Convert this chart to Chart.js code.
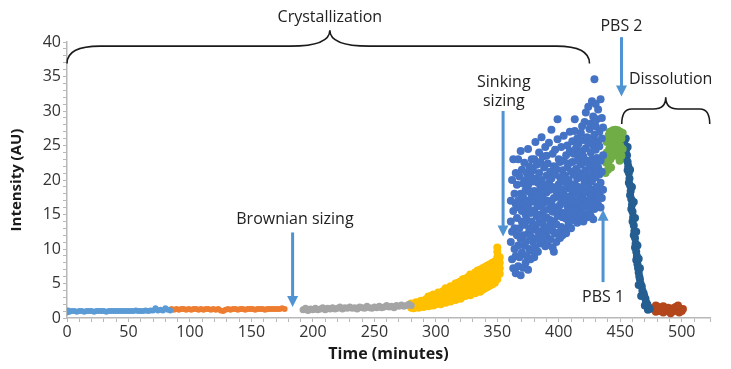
<!DOCTYPE html>
<html>
<head>
<meta charset="utf-8">
<title>Crystallization / dissolution intensity</title>
<script src="https://cdn.jsdelivr.net/npm/chart.js@4/dist/chart.umd.min.js"></script>
<style>
  html, body { margin: 0; padding: 0; background: #fff; }
  #wrap { width: 731px; height: 369px; }
</style>
</head>
<body>
<div id="wrap"><canvas id="c" width="731" height="369"></canvas></div>
<script>
"use strict";

// intensity (AU) vs time (minutes), one list of [t, y] pairs per phase
const BROWNIAN_A = [[0,0.8],[1,1.1],[2,0.9],[4,1.0],[6,1.0],[8,0.9],[10,1.0],[12,1.0],[14,0.9],[16,1.0],[18,1.0],[20,1.0],[22,0.9],[24,1.0],[26,1.0],[28,1.0],[30,1.0],[32,0.9],[34,1.0],[36,1.0],[38,1.0],[40,1.0],[42,1.0],[44,1.0],[46,1.0],[48,1.0],[50,1.0],[52,1.0],[54,1.0],[56,1.1],[58,1.0],[60,1.0],[62,1.0],[64,1.1],[66,1.0],[68,1.1],[70,1.1],[72,1.4],[74,1.1],[76,1.2],[78,1.1],[80,1.4],[82,1.2],[84,1.1]];
const BROWNIAN_B = [[85,1.3],[87,1.2],[89,1.3],[91,1.2],[93,1.3],[95,1.3],[97,1.2],[99,1.3],[101,1.2],[103,1.3],[105,1.3],[107,1.2],[109,1.3],[111,1.2],[113,1.3],[115,1.3],[117,1.2],[119,1.3],[121,1.2],[123,1.3],[125,1.1],[127,1.0],[129,1.2],[131,1.3],[133,1.2],[135,1.3],[137,1.3],[139,1.2],[141,1.3],[143,1.3],[145,1.2],[147,1.3],[149,1.3],[151,1.3],[153,1.2],[155,1.3],[157,1.3],[159,1.3],[161,1.2],[163,1.3],[165,1.3],[167,1.3],[169,1.3],[171,1.3],[173,1.3],[175,1.4],[177,1.3]];
const BROWNIAN_C = [[192,1.2],[194,1.4],[196,1.1],[198,1.3],[200,1.2],[202,1.4],[204,1.2],[206,1.3],[208,1.5],[210,1.2],[212,1.4],[214,1.3],[216,1.5],[218,1.3],[220,1.4],[222,1.6],[224,1.3],[226,1.5],[228,1.4],[230,1.6],[232,1.4],[234,1.5],[236,1.3],[238,1.6],[240,1.5],[242,1.4],[244,1.7],[246,1.5],[248,1.4],[250,1.6],[252,1.5],[254,1.7],[256,1.5],[258,1.6],[260,1.8],[262,1.6],[264,1.7],[266,1.5],[268,1.8],[270,1.7],[272,1.9],[274,1.7],[276,1.8],[278,2.0],[280,1.8]];
const GROWTH = [
  [280,1.5],[280,2.1],[282,1.4],[282,2.0],[284,1.6],[284,2.3],[286,1.5],[286,2.2],[288,1.7],[288,2.5],[290,1.6],[290,2.4],
  [292,1.8],[292,2.7],[294,1.7],[294,2.5],[294,3.1],[296,1.9],[296,2.7],[296,3.2],[298,1.8],[298,2.6],[298,3.4],[300,2.0],[300,2.8],[300,3.3],
  [302,2.1],[302,2.9],[302,3.7],[304,2.0],[304,2.8],[304,3.6],[306,2.3],[306,3.1],[306,3.9],[308,2.2],[308,3.0],[308,3.8],[308,4.3],
  [310,2.5],[310,3.3],[310,4.1],[312,2.4],[312,3.2],[312,4.0],[312,4.6],[314,2.7],[314,3.5],[314,4.3],[316,2.6],[316,3.4],[316,4.2],[316,5.0],
  [318,2.9],[318,3.7],[318,4.5],[318,5.1],[320,2.8],[320,3.6],[320,4.4],[320,5.3],[322,3.1],[322,3.9],[322,4.7],[322,5.6],
  [324,3.2],[324,4.0],[324,4.8],[324,5.7],[326,3.4],[326,4.2],[326,5.0],[326,5.9],[328,3.3],[328,4.1],[328,4.9],[328,5.7],[328,6.3],
  [330,3.7],[330,4.5],[330,5.3],[330,6.1],[332,3.6],[332,4.4],[332,5.2],[332,6.0],[332,6.6],[334,3.9],[334,4.7],[334,5.5],[334,6.3],[334,6.9],
  [336,3.8],[336,4.6],[336,5.4],[336,6.2],[336,7.0],[338,4.1],[338,4.9],[338,5.7],[338,6.5],[338,7.2],[340,4.3],[340,5.1],[340,5.9],[340,6.7],[340,7.4],
  [342,4.5],[342,5.3],[342,6.1],[342,6.9],[342,7.6],[344,4.7],[344,5.5],[344,6.3],[344,7.1],[344,7.8],[346,4.9],[346,5.7],[346,6.5],[346,7.3],[346,8.0],
  [348,5.1],[348,5.9],[348,6.7],[348,7.5],[348,8.2],[350,5.6],[350,6.4],[350,7.2],[350,8.0],[350,8.8],[350,9.6],[350,10.2],[352,6.4],[352,7.2],[352,8.0],[352,8.8]
];
const SINKING = [
  [361,11],[361,14],[361,17],[362,8.5],[362,20],[362,12.5],[363,7.2],[363,15.5],[363,23],[364,10],[364,18],[364,13],
  [365,6.5],[365,9],[365,16.5],[365,21],[366,12],[366,14.5],[366,19.3],[367,7.5],[367,10.5],[367,23],[367,17],
  [368,8.8],[368,13],[368,16],[368,20.5],[369,6.2],[369,11.5],[369,24.2],[369,18],[370,9.5],[370,14],[370,15.5],[370,21.5],
  [371,7.3],[371,12],[371,17.5],[371,19.5],[372,10.5],[372,13.5],[372,16.5],[372,22.5],[373,8],[373,11],[373,15],[373,18.5],[373,20],
  [374,9],[374,14.2],[374,17],[374,21],[375,7],[375,12.2],[375,16],[375,19.2],[375,24.5],[376,10],[376,13],[376,18.3],[376,22],
  [377,8.5],[377,11.8],[377,15.2],[377,20.5],[377,16.8],[378,9.8],[378,14],[378,17.6],[378,23],[379,11],[379,12.8],[379,19.8],[379,21.4],
  [380,8.8],[380,15.6],[380,18.4],[380,23],[381,10.2],[381,13.4],[381,16.8],[381,20.2],[381,25.5],[382,11.6],[382,14.8],[382,22.2],[382,18],
  [383,9.6],[383,12.6],[383,16.2],[383,19.6],[384,13.8],[384,17.4],[384,21],[384,24],[385,10.8],[385,15],[385,18.8],[385,22.6],
  [386,12],[386,16.4],[386,20],[386,26.2],[387,11.2],[387,14],[387,17.8],[387,23.4],[388,13],[388,15.6],[388,19.2],[388,21.8],
  [389,10.4],[389,12.4],[389,16.8],[389,24.8],[390,11.8],[390,14.6],[390,18.2],[390,20.6],[390,23.5],[391,10.6],[391,13.2],[391,17],[391,22.4],
  [392,12.8],[392,15.8],[392,19.6],[392,25.4],[393,11.4],[393,14.2],[393,18.6],[393,21.2],[394,13.6],[394,16.6],[394,20.2],[394,27.3],
  [395,10.2],[395,12.6],[395,15.4],[395,19],[395,23.8],[396,9.6],[396,14],[396,17.4],[396,22],[397,12.2],[397,16],[397,20.8],[397,24.4],
  [398,11],[398,13.6],[398,18.4],[398,21.6],[399,14.8],[399,17.6],[399,25.9],[399,28.8],[400,12.4],[400,15.6],[400,19.4],[400,23],
  [401,11.6],[401,16.4],[401,20.4],[401,22.6],[402,13.2],[402,17.2],[402,19.8],[402,24.8],[403,12],[403,14.6],[403,18.6],[403,21.4],
  [404,15.2],[404,18],[404,22.8],[404,26.4],[405,12.8],[405,15],[405,17],[405,20.6],[406,12.3],[406,14.4],[406,19.6],[406,23.6],
  [407,16.2],[407,18.8],[407,21.8],[407,25],[408,13.6],[408,15.8],[408,20],[408,22.4],[409,14.8],[409,17.6],[409,24.2],[409,27],
  [410,13],[410,16.6],[410,19],[410,21.2],[411,15.4],[411,18.4],[411,22.6],[411,25.6],[412,14.2],[412,17],[412,20.8],[412,23.8],
  [413,16],[413,19.4],[413,27.1],[413,28.8],[414,15],[414,18],[414,21.6],[414,24.6],[415,13.8],[415,16.8],[415,20.2],[415,22.8],[415,26],
  [416,15.6],[416,19],[416,23.2],[416,25.2],[417,14.4],[417,17.8],[417,21],[417,24],[418,16.4],[418,20.4],[418,22.2],[418,26.8],
  [419,15.2],[419,18.6],[419,24.2],[419,27.8],[420,14],[420,17.2],[420,20.8],[420,23.4],[420,25.8],[421,16.2],[421,19.6],[421,22.6],[421,28.4],
  [422,15],[422,18.2],[422,21.4],[422,24.6],[422,29.8],[423,14.6],[423,17],[423,20],[423,26.2],[424,16.8],[424,19.2],[424,22.8],[424,25.4],[424,30.6],
  [425,15.6],[425,18.4],[425,21.8],[425,27.4],[426,14.8],[426,17.4],[426,20.6],[426,24],[426,28.2],[427,16.2],[427,19.8],[427,23],[427,26],[427,31.4],
  [428,14.3],[428,18.6],[428,21.4],[428,25],[428,29.2],[429,15.8],[429,17.8],[429,22.2],[429,26.6],[429,34.6],[430,16.8],[430,20.4],[430,24.4],[430,27.8],[430,31],
  [431,17.6],[431,19],[431,23.2],[431,28.8],[432,16.4],[432,21.8],[432,25.6],[432,30.2],[433,18],[433,20.8],[433,24.9],[433,27],
  [434,16],[434,19.6],[434,22.8],[434,31.7],[435,17.4],[435,21.2],[435,26],[435,29],[436,18.6],[436,23.6],[436,27.6]
];
const PBS2_HOLD = [[438,21],[438.5,22.5],[439,24],[439,25.5],[440,21.5],[440,23],[440.5,26.5],[441,22],[441,24.5],[441.5,27],[442,23],[442,25.5],[443,26.8],[443,24],[444,27.2],[444,25],[445,27],[445,23.5],[446,26],[446,27.3],[447,24.5],[447,26.8],[448,27.2],[448,25.5],[449,26.5],[449,24],[450,27],[450,25],[451,23.5],[451,26],[452,24.5],[452,26.8],[439.5,22.8],[442.5,21.8],[446.5,24.8],[449.5,22.8]];
const DISSOLVING = [[453.5,25.8],[454.5,26],[454,25],[455,24.6],[454.5,24.2],[455.5,23.6],[455,23],[456,22.6],[456.5,22],[456,21.4],[457,21],[457.5,20.2],[457,19.6],[458,19.2],[458.5,18.4],[458,17.8],[459,17.2],[459.5,16.4],[459,15.8],[460,15.4],[460.5,14.6],[460,14],[461,13.4],[461.5,12.6],[461,12],[462,11.6],[462.5,10.8],[462,10.2],[463,9.6],[463.5,9],[463,8.4],[464,7.8],[464.5,7.2],[465,6.6],[465.5,6],[466,5.6],[466.5,5],[467.5,4.6],[468,4],[469,3.6],[469.5,3.2],[470.5,2.8],[471,2.3],[472,2],[473,1.6],[474,1.3],[472.5,1.2],[470,1.8],[467,3.2],[465,4.8],[456,24.8],[458,21.5],[459.5,19],[461,16.8],[462,14.5],[463,12.5],[464,10.5],[465,8.6],[466,7.2]];
const DISSOLVED = [[478,1.4],[479,1.8],[480,1.2],[481,1.6],[482,1.0],[483,1.5],[484,1.2],[485,1.7],[486,1.1],[487,1.4],[488,1.0],[489,1.5],[490,1.2],[491,1.3],[492,0.9],[493,1.4],[494,1.1],[495,1.6],[496,1.0],[497,1.4],[498,0.8],[499,1.3],[500,1.0],[501,1.3],[479,0.9],[485,0.8],[491,0.7],[497,1.8]];

const SERIES = [
  { data: BROWNIAN_A, color: "#5b9bd5", r: 3 },
  { data: BROWNIAN_B, color: "#ed7d31", r: 3 },
  { data: BROWNIAN_C, color: "#a5a5a5", r: 3.5 },
  { data: GROWTH, color: "#ffc000", r: 4 },
  { data: SINKING, color: "#4472c4", r: 4 },
  { data: PBS2_HOLD, color: "#70ad47", r: 4 },
  { data: DISSOLVING, color: "#255e91", r: 4 },
  { data: DISSOLVED, color: "#b4461b", r: 4 },
];

const FONT = "'Open Sans', sans-serif";
const ARROW_COLOR = "#4f93d2";

// notes in data units: [t, y]
const NOTES = [
  { text: "Crystallization", at: [213.8, 43.6] },
  { text: "Brownian sizing", at: [185.4, 14.3] },
  { text: "Sinking", at: [355.3, 34.2] },
  { text: "sizing", at: [355.3, 31.4] },
  { text: "PBS 2", at: [451, 42.2] },
  { text: "PBS 1", at: [436, 3.05] },
  { text: "Dissolution", at: [491, 34.6] },
];
const ARROWS = [
  { t: 183.5, from: 12.4, to: 1.6 },
  { t: 354.7, from: 30.0, to: 11.8 },
  { t: 451, from: 40.7, to: 32.1 },
  { t: 436, from: 5.2, to: 15.7 },
];
// t0, t1, tm (peak), yEnd, yLine, yPeak, end curl, peak curl (minutes)
const BRACES = [
  { t0: 0, t1: 425, tm: 213.8, yEnd: 36.9, yLine: 39.4, yPeak: 41.7, curl: 27, peak: 32 },
  { t0: 451.2, t1: 522.8, tm: 487, yEnd: 28.1, yLine: 30.3, yPeak: 32, curl: 8, peak: 10 },
];

const annotate = {
  id: "annotate",
  afterDatasetsDraw(chart) {
    const { ctx } = chart;
    const xs = chart.scales.x, ys = chart.scales.y;
    const X = v => xs.getPixelForValue(v);
    const Y = v => ys.getPixelForValue(v);
    ctx.save();

    ctx.strokeStyle = "#1a1a1a";
    ctx.lineWidth = 1.6;
    BRACES.forEach(b => {
      const x0 = X(b.t0), x1 = X(b.t1), xm = X(b.tm);
      const rc = X(b.t0 + b.curl) - x0, rp = X(b.tm + b.peak) - xm;
      const ye = Y(b.yEnd), yl = Y(b.yLine), yp = Y(b.yPeak);
      ctx.beginPath();
      ctx.moveTo(x0, ye);
      ctx.quadraticCurveTo(x0, yl, x0 + rc, yl);
      ctx.lineTo(xm - rp, yl);
      ctx.quadraticCurveTo(xm, yl, xm, yp);
      ctx.quadraticCurveTo(xm, yl, xm + rp, yl);
      ctx.lineTo(x1 - rc, yl);
      ctx.quadraticCurveTo(x1, yl, x1, ye);
      ctx.stroke();
    });

    ctx.strokeStyle = ARROW_COLOR;
    ctx.fillStyle = ARROW_COLOR;
    ctx.lineWidth = 3;
    ARROWS.forEach(a => {
      const x = X(a.t), y0 = Y(a.from), y1 = Y(a.to);
      const dir = y1 > y0 ? 1 : -1;
      ctx.beginPath();
      ctx.moveTo(x, y0);
      ctx.lineTo(x, y1 - dir * 8);
      ctx.stroke();
      ctx.beginPath();
      ctx.moveTo(x, y1);
      ctx.lineTo(x - 5.5, y1 - dir * 11);
      ctx.lineTo(x + 5.5, y1 - dir * 11);
      ctx.closePath();
      ctx.fill();
    });

    ctx.fillStyle = "#222";
    ctx.font = "16px " + FONT;
    ctx.textAlign = "center";
    ctx.textBaseline = "middle";
    NOTES.forEach(n => ctx.fillText(n.text, X(n.at[0]), Y(n.at[1])));
    ctx.restore();
  },
};

const AXIS_COLOR = "#b8b8b8";

new Chart(document.getElementById("c"), {
  type: "scatter",
  data: {
    datasets: SERIES.map(s => ({
      data: s.data.map(([x, y]) => ({ x, y })),
      backgroundColor: s.color,
      pointBackgroundColor: s.color,
      pointBorderWidth: 0,
      borderWidth: 0,
      pointRadius: s.r,
      pointHoverRadius: s.r,
    })),
  },
  options: {
    responsive: false,
    animation: false,
    layout: { padding: { top: 42, right: 21, bottom: 5, left: 8 } },
    plugins: { legend: { display: false }, tooltip: { enabled: false } },
    scales: {
      x: {
        type: "linear",
        min: 0,
        max: 523,
        afterFit: s => { s.height = 46; },
        border: { color: AXIS_COLOR, width: 1.5 },
        grid: { drawOnChartArea: false, tickLength: 4, color: AXIS_COLOR },
        ticks: {
          stepSize: 10,
          autoSkip: false,
          maxRotation: 0,
          padding: 1,
          color: "#333",
          font: { family: FONT, size: 16 },
          callback: v => (v % 50 === 0 ? v : ""),
        },
        title: {
          display: true,
          text: "Time (minutes)",
          color: "#1a1a1a",
          font: { family: FONT, size: 16, weight: "bold" },
          padding: { top: 2, bottom: 0 },
        },
      },
      y: {
        type: "linear",
        min: 0,
        max: 40,
        afterFit: s => { s.width = 59; },
        border: { color: AXIS_COLOR, width: 1.5 },
        grid: { drawOnChartArea: false, tickLength: 4, color: AXIS_COLOR },
        ticks: {
          stepSize: 1,
          autoSkip: false,
          padding: 2,
          color: "#333",
          font: { family: FONT, size: 16 },
          callback: v => (v % 5 === 0 ? v : ""),
        },
        title: {
          display: true,
          text: "Intensity (AU)",
          color: "#1a1a1a",
          font: { family: FONT, size: 15, weight: "bold" },
          padding: { top: 0, bottom: 4 },
        },
      },
    },
  },
  plugins: [annotate],
});
</script>
</body>
</html>
